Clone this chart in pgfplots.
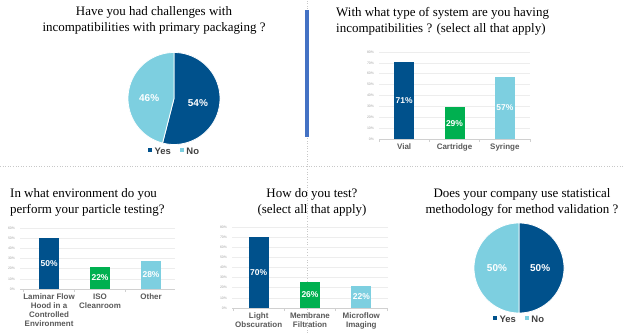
\documentclass[border=0pt]{standalone}
\usepackage{pgfplots}
\pgfplotsset{compat=1.18}
\usepackage{fontspec}
\setmainfont{Liberation Serif}
\setsansfont{Liberation Sans}
\definecolor{cdark}{HTML}{00518C}
\definecolor{cgreen}{HTML}{00B050}
\definecolor{clight}{HTML}{7DCFE0}
\definecolor{cdiv}{HTML}{4472C4}
\definecolor{clab}{HTML}{595959}
\definecolor{cleg}{HTML}{404040}
\definecolor{cgrid}{HTML}{EDEDED}
\definecolor{caxis}{HTML}{D0D0D0}
\definecolor{ctick}{HTML}{A0A0A0}
\definecolor{cdot}{HTML}{C8C8C8}

\tikzset{pielabel/.style={font=\sffamily\bfseries\fontsize{10}{11}\selectfont, text=white}}
\pgfplotsset{
  barpanel/.style={
    scale only axis, anchor=south west,
    ybar, bar width=20bp, bar shift=0pt,
    ymin=0,
    axis x line*=bottom, axis y line*=left,
    y axis line style={draw=none},
    x axis line style={draw=caxis, line width=0.6bp},
    ymajorgrids, grid style={draw=cgrid, line width=0.6bp},
    major tick length=0bp,
    minor tick length=3bp,
    tick align=outside,
    tick style={draw=caxis, line width=0.5bp},
    xtick={0,1,2},
    minor xtick={-0.5,0.5,1.5,2.5},
    /pgf/number format/assume math mode=true,
    yticklabel={\pgfmathprintnumber{\tick}\%},
    yticklabel style={font=\sffamily\fontsize{3.5}{4}\selectfont, text=ctick, xshift=-1.5bp},
    xticklabel style={font=\sffamily\bfseries\fontsize{8}{9}\selectfont, text=clab, align=center, yshift=-1bp},
    nodes near coords={\pgfmathprintnumber{\pgfplotspointmeta}\%},
    visualization depends on=rawy \as \rawy,
    every node near coord/.append style={font=\sffamily\bfseries\fontsize{8.5}{9}\selectfont, text=white, anchor=center, shift={(axis direction cs:0,-\rawy/2)}},
    clip=false,
  },
  piepanel/.style={
    scale only axis, anchor=south west, hide axis, clip=false,
    xmin=-1, xmax=1, ymin=-1, ymax=1,
    legend columns=2,
    legend image code/.code={\fill[##1] (0bp,-0.2bp) rectangle (4.8bp,4.6bp);},
    legend style={draw=none, fill=none, at={(0.5,0)}, anchor=north, yshift=-1.5bp,
      font=\sffamily\bfseries\fontsize{9.5}{10}\selectfont, text=cleg,
      inner sep=0pt, /tikz/every even column/.append style={column sep=7bp},
      nodes={inner sep=1.5bp}},
  },
}

\begin{document}
\begin{tikzpicture}
\path[use as bounding box] (0,0) rectangle (624bp,333bp);
% separators
\draw[cdot, dotted, line width=0.6bp] (0bp,167bp) -- (624bp,167bp);
\draw[cdot, dotted, line width=0.6bp] (307bp,0bp) -- (307bp,333bp);
\fill[cdiv] (305bp,196bp) rectangle (309bp,323bp);

% titles
\begin{scope}[every node/.style={inner sep=0pt, font=\fontsize{13}{16}\selectfont}]
\node[anchor=north, align=center] at (154bp,327bp) {Have you had challenges with\\incompatibilities with primary packaging ?};
\node[anchor=north west, align=left] at (336bp,326bp) {With what type of system are you having\\incompatibilities ? (select all that apply)};
\node[anchor=north west, align=left] at (10bp,145bp) {In what environment do you\\perform your particle testing?};
\node[anchor=north, align=center] at (312bp,145bp) {How do you test?\\(select all that apply)};
\node[anchor=north, align=center] at (522bp,145bp) {Does your company use statistical\\methodology for method validation ?};
\end{scope}

% Pie 1
\begin{axis}[piepanel, at={(128bp,188.5bp)}, width=92bp, height=92bp]
\addplot[fill=cdark, draw=white, line width=0.8bp, domain=90-3.6*54:90, samples=120] ({cos(x)},{sin(x)}) -- (axis cs:0,0) -- cycle;
\addlegendentry{Yes}
\addplot[fill=clight, draw=white, line width=0.8bp, domain=90:90+3.6*46, samples=120] ({cos(x)},{sin(x)}) -- (axis cs:0,0) -- cycle;
\addlegendentry{No}
\node[pielabel] at (axis cs:0.52,-0.11) {54\%};
\node[pielabel] at (axis cs:-0.54,0.02) {46\%};
\end{axis}

% Bar panel 2
\begin{axis}[barpanel, at={(379bp,194bp)}, width=151bp, height=87bp,
  xmin=-0.5, xmax=2.5, ymax=80, ytick={0,10,...,80},
  xticklabels={Vial, Cartridge, Syringe}]
\addplot[fill=cdark, draw=none] coordinates {(0,71)};
\addplot[fill=cgreen, draw=none] coordinates {(1,29)};
\addplot[fill=clight, draw=none] coordinates {(2,57)};
\end{axis}

% Bar panel 3
\begin{axis}[barpanel, at={(20bp,44bp)}, width=155bp, height=61bp,
  xmin=-0.57, xmax=2.47, ymax=60, ytick={0,10,...,60},
  xticklabels={{Laminar Flow\\Hood in a\\Controlled\\Environment}, {ISO\\Cleanroom}, {Other}}]
\addplot[fill=cdark, draw=none] coordinates {(0,50)};
\addplot[fill=cgreen, draw=none] coordinates {(1,22)};
\addplot[fill=clight, draw=none] coordinates {(2,28)};
\end{axis}

% Bar panel 4
\begin{axis}[barpanel, at={(232bp,25bp)}, width=156bp, height=81bp,
  xmin=-0.52, xmax=2.52, ymax=80, ytick={0,10,...,80},
  xticklabels={{Light\\Obscuration}, {Membrane\\Filtration}, {Microflow\\Imaging}}]
\addplot[fill=cdark, draw=none] coordinates {(0,70)};
\addplot[fill=cgreen, draw=none] coordinates {(1,26)};
\addplot[fill=clight, draw=none] coordinates {(2,22)};
\end{axis}

% Pie 5
\begin{axis}[piepanel, at={(474bp,20bp)}, width=90bp, height=90bp]
\addplot[fill=cdark, draw=white, line width=0.8bp, domain=90-3.6*50:90, samples=120] ({cos(x)},{sin(x)}) -- (axis cs:0,0) -- cycle;
\addlegendentry{Yes}
\addplot[fill=clight, draw=white, line width=0.8bp, domain=90:90+3.6*50, samples=120] ({cos(x)},{sin(x)}) -- (axis cs:0,0) -- cycle;
\addlegendentry{No}
\node[pielabel] at (axis cs:0.47,0) {50\%};
\node[pielabel] at (axis cs:-0.49,0) {50\%};
\end{axis}
\end{tikzpicture}
\end{document}
